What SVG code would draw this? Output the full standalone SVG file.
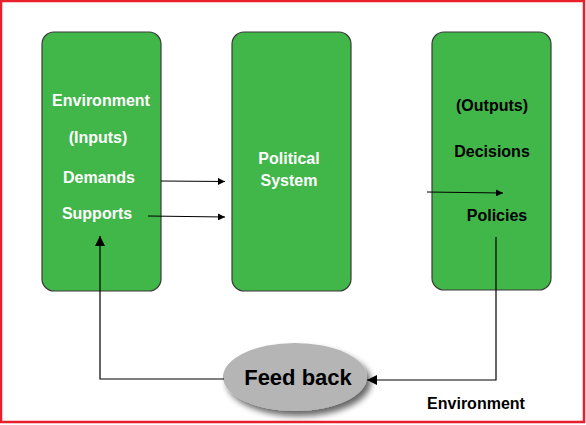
<svg xmlns="http://www.w3.org/2000/svg" width="586" height="425" viewBox="0 0 586 425">
<defs>
<style>
.box{fill:#41b649;stroke:#3a3a3a;stroke-width:1.2}
.wt{fill:#fff;font-family:"Liberation Sans",Arial,sans-serif;font-weight:bold;font-size:16px;text-anchor:middle}
.bt{fill:#000;font-family:"Liberation Sans",Arial,sans-serif;font-weight:bold;font-size:16px;text-anchor:middle}
.ln{fill:none;stroke:#000;stroke-width:1.2}
</style>
<marker id="ah" viewBox="0 0 10 10" refX="10" refY="5" markerWidth="7" markerHeight="7" markerUnits="userSpaceOnUse" orient="auto">
<path d="M0,0 L10,5 L0,10 z" fill="#000"/>
</marker>
<marker id="ahb" viewBox="0 0 10 10" refX="10" refY="5" markerWidth="10" markerHeight="10" markerUnits="userSpaceOnUse" orient="auto">
<path d="M0,0 L10,5 L0,10 z" fill="#000"/>
</marker>
<filter id="sh" x="-30%" y="-30%" width="170%" height="170%">
<feGaussianBlur in="SourceAlpha" stdDeviation="3"/>
<feOffset dx="4" dy="5" result="b"/>
<feComponentTransfer><feFuncA type="linear" slope="0.6"/></feComponentTransfer>
<feMerge><feMergeNode/><feMergeNode in="SourceGraphic"/></feMerge>
</filter>
</defs>
<rect x="0" y="0" width="586" height="425" fill="#fff"/>
<rect x="1" y="1" width="583" height="421" fill="none" stroke="#e8202a" stroke-width="2.5"/>
<g id="inputs">
<rect class="box" x="42" y="32" width="119" height="259" rx="12"/>
<text class="wt" x="101" y="106">Environment</text>
<text class="wt" x="98" y="143">(Inputs)</text>
<text class="wt" x="99" y="183">Demands</text>
<text class="wt" x="97" y="219">Supports</text>
</g>
<g id="political-system">
<rect class="box" x="232" y="32" width="119" height="259" rx="12"/>
<text class="wt" x="289" y="164">Political</text>
<text class="wt" x="289" y="186">System</text>
</g>
<g id="outputs">
<rect class="box" x="432" y="32" width="119" height="258" rx="12"/>
<text class="bt" x="492" y="111">(Outputs)</text>
<text class="bt" x="492" y="157">Decisions</text>
<text class="bt" x="497" y="221">Policies</text>
</g>
<g id="feedback">
<ellipse cx="295" cy="377" rx="72" ry="34" fill="#b5b5b5" filter="url(#sh)"/>
<text x="298" y="385" font-family="'Liberation Sans',Arial,sans-serif" font-weight="bold" font-size="22" text-anchor="middle" fill="#000">Feed back</text>
</g>
<g id="env-label">
<text class="bt" x="476" y="409">Environment</text>
</g>
<g id="connectors">
<line class="ln" x1="161" y1="181" x2="225" y2="181.5" marker-end="url(#ah)"/>
<line class="ln" x1="148" y1="216" x2="225" y2="217" marker-end="url(#ah)"/>
<line class="ln" x1="427" y1="192" x2="503" y2="193" marker-end="url(#ah)"/>
<polyline class="ln" points="496,237 496,380 367,380" marker-end="url(#ahb)"/>
<polyline class="ln" points="224,379 100,379 100,236" marker-end="url(#ahb)"/>
</g>
</svg>
